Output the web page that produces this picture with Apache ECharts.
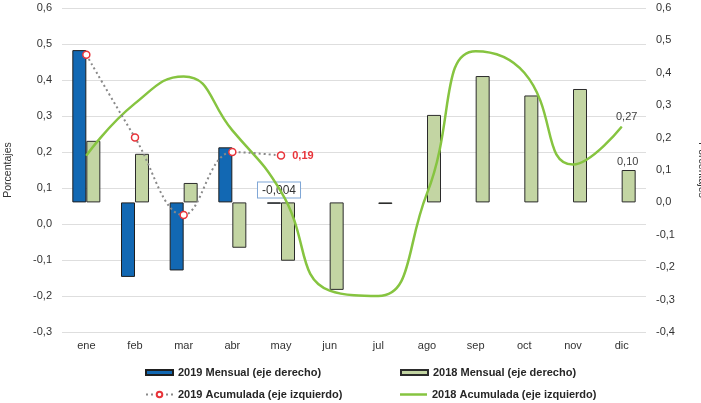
<!DOCTYPE html>
<html>
<head>
<meta charset="utf-8">
<script src="https://cdn.jsdelivr.net/npm/echarts@6/dist/echarts.min.js"></script>
<style>
html,body{margin:0;padding:0;background:#fff;}
#chart{width:701px;height:403px;}
</style>
</head>
<body>
<div id="chart"></div>
<script>
const months = ['ene','feb','mar','abr','may','jun','jul','ago','sep','oct','nov','dic'];
const mensual2019 = [0.47, -0.23, -0.21, 0.17, -0.004, null, null, null, null, null, null, null];
const mensual2018 = [0.19, 0.15, 0.06, -0.14, -0.18, -0.27, -0.005, 0.27, 0.39, 0.33, 0.35, 0.10];
const acumulada2019 = [0.47, 0.24, 0.025, 0.20, 0.19, null, null, null, null, null, null, null];
const acumulada2018 = [0.19, 0.335, 0.41, 0.26, 0.09, -0.185, -0.20, 0.085, 0.48, 0.42, 0.165, 0.27];
const seriesNames = ['2019 Mensual (eje derecho)','2018 Mensual (eje derecho)','2019 Acumulada (eje izquierdo)','2018 Acumulada (eje izquierdo)'];

const FONT = 'Liberation Sans, Arial, sans-serif';
const fmt = v => (Math.abs(v) < 1e-9 ? '0,0' : v.toFixed(1).replace('.', ','));
const fmtN = (v, d) => v.toFixed(d).replace('.', ',');

const chart = echarts.init(document.getElementById('chart'));

const bar2019 = mensual2019.map((v, i) => {
  if (i === 4) {
    return { value: v, label: { show: true, position: 'top', distance: 5, offset: [5, 0],
      formatter: () => fmtN(v, 3), color: '#333', fontSize: 12, fontFamily: FONT,
      backgroundColor: '#fff', borderColor: '#7fa6d6', borderWidth: 1, padding: [2, 4, 1, 4] } };
  }
  return v;
});
const bar2018 = mensual2018.map((v, i) => {
  if (i === 11) {
    return { value: v, label: { show: true, position: 'top', distance: 3, offset: [-1, 0],
      formatter: () => fmtN(v, 2), color: '#404040', fontSize: 11, fontFamily: FONT } };
  }
  return v;
});
const line2019 = acumulada2019.map((v, i) => {
  if (i === 4) {
    return { value: v, label: { show: true, position: 'right', distance: 7,
      formatter: () => fmtN(v, 2), color: '#e8343a', fontWeight: 'bold', fontSize: 11, fontFamily: FONT } };
  }
  return v;
});
const line2018 = acumulada2018.map((v, i) => {
  if (i === 11) {
    return { value: v, label: { show: true, position: 'top', distance: 4, offset: [5, 0],
      formatter: () => fmtN(v, 2), color: '#404040', fontSize: 11, fontFamily: FONT } };
  }
  return v;
});

const legendText = { fontSize: 11, fontWeight: 'bold', color: '#262626', fontFamily: FONT };

chart.setOption({
  animation: false,
  backgroundColor: '#fff',
  grid: { left: 62, right: 55, top: 8, bottom: 71, outerBoundsMode: 'none', containLabel: false },
  legend: [
    { data: [seriesNames[0]], left: 145, top: 367, icon: 'rect', itemWidth: 27, itemHeight: 5, textStyle: legendText, padding: 0, itemGap: 3 },
    { data: [seriesNames[1]], left: 400, top: 367, icon: 'rect', itemWidth: 27, itemHeight: 5, textStyle: legendText, padding: 0, itemGap: 3 },
    { data: [seriesNames[2]], left: 145, top: 389, itemWidth: 27, itemHeight: 7, textStyle: legendText, padding: 0, itemGap: 3 },
    { data: [seriesNames[3]], left: 400, top: 389, icon: 'rect', itemWidth: 27, itemHeight: 2.5,
      itemStyle: { color: '#86c440', borderWidth: 0 }, textStyle: legendText, padding: 0, itemGap: 3 }
  ],
  xAxis: {
    type: 'category', data: months,
    axisLine: { show: false }, axisTick: { show: false },
    axisLabel: { color: '#333', fontSize: 11, fontFamily: FONT, margin: 8 }
  },
  yAxis: [
    { type: 'value', position: 'left', min: -0.3, max: 0.6, interval: 0.1,
      name: 'Porcentajes', nameLocation: 'middle', nameRotate: 90, nameGap: 48,
      nameTextStyle: { color: '#333', fontSize: 10.5, fontFamily: FONT },
      axisLine: { show: false }, axisTick: { show: false },
      axisLabel: { color: '#333', fontSize: 11, fontFamily: FONT, margin: 10, formatter: fmt },
      splitLine: { show: true, lineStyle: { color: '#dedede', width: 1 } } },
    { type: 'value', position: 'right', min: -0.4, max: 0.6, interval: 0.1,
      name: 'Porcentajes', nameLocation: 'middle', nameRotate: -90, nameGap: 50,
      nameTextStyle: { color: '#333', fontSize: 10.5, fontFamily: FONT },
      axisLine: { show: false }, axisTick: { show: false },
      axisLabel: { color: '#333', fontSize: 11, fontFamily: FONT, margin: 10, formatter: fmt },
      splitLine: { show: false } }
  ],
  series: [
    { name: seriesNames[0], type: 'bar', yAxisIndex: 1, data: bar2019, barWidth: 14, barGap: '0%',
      itemStyle: { color: '#1268b3', borderColor: '#1f1f1f', borderWidth: 1 }, z: 2 },
    { name: seriesNames[1], type: 'bar', yAxisIndex: 1, data: bar2018, barWidth: 14, barGap: '0%',
      itemStyle: { color: '#c3d5a3', borderColor: '#2b2b2b', borderWidth: 1 }, z: 2 },
    { name: seriesNames[2], type: 'line', yAxisIndex: 0, data: line2019, smooth: 0.4,
      symbol: 'circle', symbolSize: 7, showAllSymbol: true,
      lineStyle: { color: '#8a8a8a', width: 2, type: [2, 3] },
      itemStyle: { color: '#fff', borderColor: '#e8343a', borderWidth: 1.5 }, z: 4 },
    { name: seriesNames[3], type: 'line', yAxisIndex: 0, data: line2018, smooth: 0.5,
      symbol: 'circle', symbolSize: 1, showAllSymbol: true,
      lineStyle: { color: '#86c440', width: 2.5 },
      itemStyle: { color: '#86c440', borderWidth: 0 }, z: 3 }
  ]
});
</script>
</body>
</html>
